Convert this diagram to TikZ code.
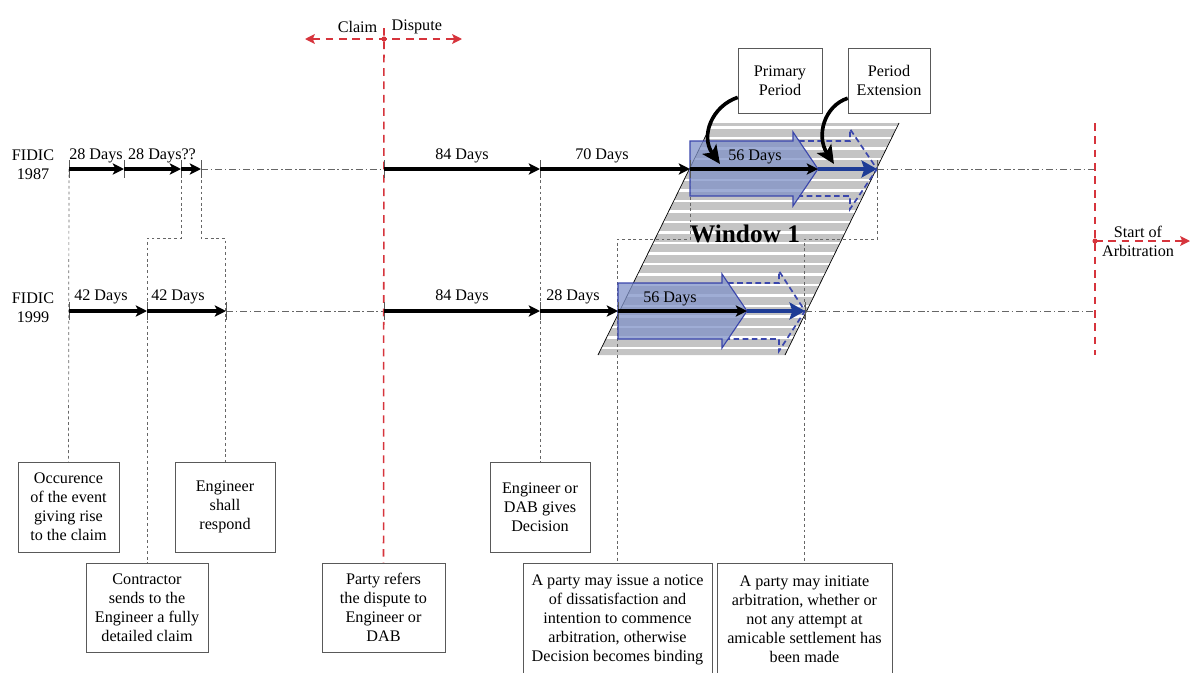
\documentclass[tikz,border=0pt]{standalone}
\usepackage{fontspec}
\setmainfont{Liberation Serif}
\usetikzlibrary{arrows.meta}

\definecolor{claimred}{RGB}{214,52,60}
\definecolor{winblue}{RGB}{30,60,150}
\definecolor{winfill}{RGB}{128,146,200}
\definecolor{winedge}{RGB}{58,70,172}
\definecolor{stripegray}{RGB}{196,196,196}

\tikzset{
  lbl/.style={font=\fontsize{11.5}{13.5}\selectfont, inner sep=1pt, align=center},
  box/.style={draw=black!65, fill=white, align=center, inner sep=0pt, font=\fontsize{11.5}{13.5}\selectfont},
  period/.style={line width=2.2pt, -{Stealth[length=8pt,width=8pt,inset=2pt]}},
  extra/.style={winblue, line width=2.8pt, -{Stealth[length=11pt,width=12pt,inset=2pt]}},
  primary/.style={draw=winedge, line width=0.8pt, fill=winfill, fill opacity=0.75},
  extend/.style={draw=winedge, line width=1.2pt, dash pattern=on 4pt off 2.5pt},
  guide/.style={gray!80!black, line width=0.5pt, dash pattern=on 2pt off 2pt},
  axisline/.style={gray!80!black, line width=0.5pt, dash pattern=on 5pt off 2pt on 1pt off 2pt},
  tick/.style={gray!70!black, line width=0.5pt},
  redline/.style={claimred, line width=1.1pt, dash pattern=on 5.5pt off 4pt},
  curl/.style={line width=2.6pt, -{Stealth[length=13pt,width=12pt,inset=3pt]}}
}

\begin{document}
\begin{tikzpicture}[x=0.025cm, y=-0.025cm]
	\useasboundingbox (0,0) rectangle (1191,672);
	
	\begin{scope}
		\clip (712,123) -- (899,123) -- (785,355) -- (598,355) -- cycle;
		\fill[stripegray] (590,120) rectangle (905,360);
		\foreach \s in {0,...,22}
			\fill[white] ({590},{126+10.5*\s}) rectangle ({905},{128.5+10.5*\s});
	\end{scope}
	\draw[line width=0.5pt] (712,123) -- (598,355);
	\draw[line width=0.5pt] (899,123) -- (785,355);
	
	
	\coordinate (a1) at (69,169);
	\coordinate (a2) at (124,169);
	\coordinate (a3) at (181,169);
	\coordinate (a4) at (201,169);
	\coordinate (a5) at (384,169);
	\coordinate (a6) at (540,169);
	\coordinate (a7) at (690,169);
	\coordinate (a8) at (818,169);
	\coordinate (a9) at (877,169);
	\coordinate (a10) at (1095,169);
	
	\coordinate (b1) at (69,311);
	\coordinate (b2) at (147,311);
	\coordinate (b3) at (226,311);
	\coordinate (b4) at (384,311);
	\coordinate (b5) at (540,311);
	\coordinate (b6) at (618,311);
	\coordinate (b7) at (747,311);
	\coordinate (b8) at (805,311);
	\coordinate (b9) at (1095,311);
	
	
	\node[box, minimum width=2.53cm, minimum height=2.25cm] (occ) at (68.5,507) {Occurence\\of the event\\giving rise\\to the claim};
	\node[box, minimum width=2.5cm, minimum height=2.25cm] (resp) at (225,507) {Engineer\\shall\\respond};
	\node[box, minimum width=3.05cm, minimum height=2.23cm] (contr) at (147,607.5) {Contractor\\sends to the\\Engineer a fully\\detailed claim};
	\node[box, minimum width=2.5cm, minimum height=2.25cm] (dec) at (540,507) {Engineer or\\DAB gives\\Decision};
	\node[box, minimum width=3.08cm, minimum height=2.23cm] (party) at (383.5,607.5) {Party refers\\the dispute to\\Engineer or\\DAB};
	\node[box, minimum width=4.73cm, minimum height=2.83cm] (notice) at (617.5,619.5) {A party may issue a notice\\of dissatisfaction and\\intention to commence\\arbitration, otherwise\\Decision becomes binding};
	\node[box, minimum width=4.38cm, minimum height=2.83cm] (initiate) at (804.5,619.5) {A party may initiate\\arbitration, whether or\\not any attempt at\\amicable settlement has\\been made};
	
	
	\draw[guide] (a1) -- (occ.north);
	\draw[guide] (a3) -- ++(0,69) -| (contr.north);
	\draw[guide] (a4) -- ++(0,69) -| (resp.north);
	\draw[guide] (a6) -- (dec.north);
	\draw[guide] (a7) -- ++(0,70) -| (notice.north);
	\draw[guide] (a9) -- ++(0,70) -| (initiate.north);
	
	\draw[axisline] (a4) -- (a5);
	\draw[axisline] (a9) -- (a10);
	\draw[axisline] (b3) -- (b4);
	\draw[axisline] (b8) -- (b9);
	
	
	\coordinate (cd) at (384,28);
	\draw[redline] (cd) -- (party.north);
	\coordinate (cl) at (305,39);
	\coordinate (dp) at (462,39);
	\coordinate (cm) at (384,39);
	\draw[redline, {Stealth[length=7pt,width=7pt,inset=1.5pt]}-{Stealth[length=7pt,width=7pt,inset=1.5pt]}] (cl) -- (dp);
	\fill[claimred] (cm) circle (1.8pt);
	\node[lbl, anchor=east] (claim) at (379,27) {Claim};
	\node[lbl, anchor=west] (dispute) at (390,27) {Dispute};
	
	\coordinate (sa1) at (1095,123);
	\coordinate (sa2) at (1095,355);
	\coordinate (sa) at (1095,241);
	\coordinate (sae) at (1190,241);
	\draw[redline] (sa1) -- (sa2);
	\draw[redline, -{Stealth[length=7pt,width=7pt,inset=1.5pt]}] (sa) -- (sae);
	\fill[claimred] (sa) circle (1.8pt);
	\node[lbl] (start) at (1138,241) {Start of\\Arbitration};
	
	
	\filldraw[primary] (690,141) -- (793,141) -- (793,132) -- (818,169) -- (793,206) -- (793,196) -- (690,196) -- cycle;
	\draw[extend] (799,141) -- (850,141) -- (850,129) -- (877,169) -- (850,209) -- (850,196) -- (799,196);
	\filldraw[primary] (618,283) -- (722,283) -- (722,274) -- (747,311) -- (722,348) -- (722,339) -- (618,339) -- cycle;
	\draw[extend] (728,283) -- (779,283) -- (779,271) -- (805,311) -- (779,351) -- (779,339) -- (728,339);
	
	
	\foreach \p in {a1,a2,a3,a4,a5,a6,a7,a9,b1,b2,b3,b4,b5,b6,b8}
		\draw[tick] ([yshift=0.22cm]\p) -- ([yshift=-0.22cm]\p);
	
	\draw[period] (a1) -- (a2);
	\draw[period] (a2) -- (a3);
	\draw[period] (a3) -- (a4);
	\draw[period] (a5) -- (a6);
	\draw[period] (a6) -- (a7);
	\draw[period] (a7) -- (a8);
	\draw[extra] (a8) -- (a9);
	
	\draw[period] (b1) -- (b2);
	\draw[period] (b2) -- (b3);
	\draw[period] (b4) -- (b5);
	\draw[period] (b5) -- (b6);
	\draw[period] (b6) -- (b7);
	\draw[extra] (b7) -- (b8);
	
	
	\node[lbl] (f87) at (33,165) {FIDIC\\1987};
	\node[lbl] (f99) at (33,308) {FIDIC\\1999};
	
	\node[lbl] (d1) at (96,156) {28 Days};
	\node[lbl] (d2) at (162,156) {28 Days??};
	\node[lbl] (d3) at (462,156) {84 Days};
	\node[lbl] (d4) at (602,156) {70 Days};
	\node[lbl] (d5) at (755,157) {56 Days};
	
	\node[lbl] (e1) at (101,297) {42 Days};
	\node[lbl] (e2) at (178,297) {42 Days};
	\node[lbl] (e3) at (462,297) {84 Days};
	\node[lbl] (e4) at (573,297) {28 Days};
	\node[lbl] (e5) at (670,299) {56 Days};
	
	\node[font=\fontsize{18}{20}\selectfont\bfseries, inner sep=1pt] (win) at (745,234) {Window 1};
	
	
	\node[box, minimum width=2.1cm, minimum height=1.63cm] (prim) at (780,80.5) {Primary\\Period};
	\node[box, minimum width=2.05cm, minimum height=1.63cm] (ext) at (889,80.5) {Period\\Extension};
	\draw[curl] ([yshift=0.4cm]prim.south west) .. controls (712,106) and (700,136) .. (720,164);
	\draw[curl] ([yshift=0.38cm]ext.south west) .. controls (824,106) and (816,136) .. (834,164);
	
\end{tikzpicture}
\end{document}
